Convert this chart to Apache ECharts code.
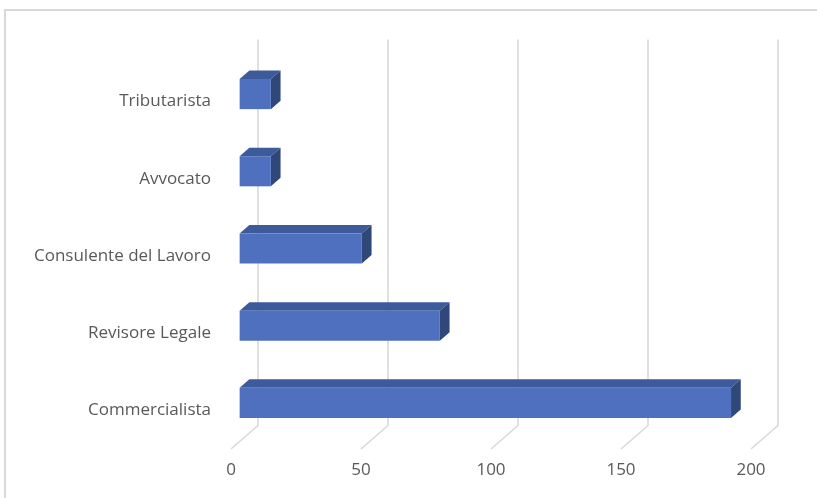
<!DOCTYPE html>
<html>
<head>
<meta charset="utf-8">
<script src="https://cdn.jsdelivr.net/npm/echarts@6/dist/echarts.min.js"></script>
<style>
  html, body { margin: 0; padding: 0; background: #ffffff; }
  #chart { width: 817px; height: 498px; }
</style>
</head>
<body>
<div id="chart"></div>
<script>
// Categories listed bottom to top, as the category axis stacks them
const categories = ['Commercialista', 'Revisore Legale', 'Consulente del Lavoro', 'Avvocato', 'Tributarista'];
const values = [189, 77, 47, 12, 12];
const tickValues = [0, 50, 100, 150, 200];

// Oblique depth of the plot box (front plane -> back wall), in pixels
const DEPTH_X = 27;
const DEPTH_Y = -23.5;
// Front and back face of each bar, as fractions of the box depth
const F1 = 0.32;
const F2 = 0.68;
const BAR_RATIO = 0.39;

const FRONT = '#4e70bf';
const TOP = '#3d5a9a';
const SIDE = '#2f4779';
const GRID = '#d9d9d9';

const chart = echarts.init(document.getElementById('chart'));

function renderGridLine(params, api) {
  const cs = params.coordSys;
  const v = api.value(0);
  const x = api.coord([v, 0])[0];
  const yFront = cs.y + cs.height;
  const yTop = cs.y + DEPTH_Y;
  return {
    type: 'polyline',
    shape: { points: [[x, yFront], [x + DEPTH_X, yFront + DEPTH_Y], [x + DEPTH_X, yTop]] },
    style: { stroke: GRID, lineWidth: 1.6, fill: null }
  };
}

function renderBar(params, api) {
  const v = api.value(0);
  const c = api.value(1);
  const p0 = api.coord([0, c]);
  const p1 = api.coord([v, c]);
  const band = api.size([0, 1])[1];
  const h = band * BAR_RATIO;
  const xL = p0[0], xR = p1[0];
  const yT = p0[1] - h / 2, yB = p0[1] + h / 2;
  const ax = F1 * DEPTH_X, ay = F1 * DEPTH_Y;
  const bx = F2 * DEPTH_X, by = F2 * DEPTH_Y;
  return {
    type: 'group',
    children: [
      {
        type: 'polygon',
        shape: { points: [[xL + ax, yT + ay], [xR + ax, yT + ay], [xR + bx, yT + by], [xL + bx, yT + by]] },
        style: { fill: TOP }
      },
      {
        type: 'polygon',
        shape: { points: [[xR + ax, yT + ay], [xR + bx, yT + by], [xR + bx, yB + by], [xR + ax, yB + ay]] },
        style: { fill: SIDE }
      },
      {
        type: 'rect',
        shape: { x: xL + ax, y: yT + ay, width: xR - xL, height: h },
        style: { fill: FRONT }
      }
    ]
  };
}

chart.setOption({
  animation: false,
  backgroundColor: '#ffffff',
  textStyle: { fontFamily: 'Open Sans' },
  graphic: [{
    type: 'polyline',
    shape: { points: [[5, 498], [5, 10], [817, 10]] },
    style: { stroke: GRID, lineWidth: 2, fill: null },
    silent: true
  }],
  grid: { left: 231, right: 66, top: 63, bottom: 49 },
  xAxis: {
    type: 'value',
    min: 0,
    max: 200,
    interval: 50,
    axisLine: { show: false },
    axisTick: { show: false },
    splitLine: { show: false },
    axisLabel: { color: '#595959', fontSize: 17, margin: 13, fontFamily: 'Open Sans' }
  },
  yAxis: {
    type: 'category',
    data: categories,
    axisLine: { show: false },
    axisTick: { show: false },
    splitLine: { show: false },
    axisLabel: { color: '#595959', fontSize: 17, margin: 20, padding: [4, 0, 0, 0], fontFamily: 'Open Sans' }
  },
  series: [
    {
      type: 'custom',
      z: 1,
      silent: true,
      renderItem: renderGridLine,
      data: tickValues.map(t => [t, 0])
    },
    {
      type: 'custom',
      z: 2,
      renderItem: renderBar,
      encode: { x: 0, y: 1 },
      data: values.map((v, i) => [v, i])
    }
  ]
});
</script>
</body>
</html>
